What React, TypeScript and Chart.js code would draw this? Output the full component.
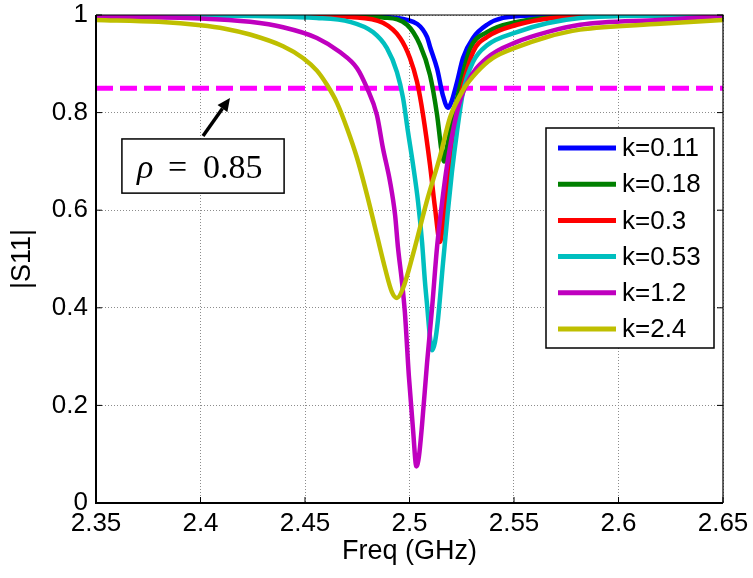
import React, { useEffect, useRef } from "react";
import { Chart, registerables } from "chart.js";

Chart.register(...registerables);

// ---- axis ticks ----
const xTicks = [2.35, 2.4, 2.45, 2.5, 2.55, 2.6, 2.65];
const yTicks = [0, 0.2, 0.4, 0.6, 0.8, 1];

// ---- series meta ----
const seriesLabels = ["k=0.11", "k=0.18", "k=0.3", "k=0.53", "k=1.2", "k=2.4"];
const seriesColors = ["#0000ff", "#008000", "#ff0000", "#00bfbf", "#bf00bf", "#bfbf00"];

// ---- series data (Freq GHz, |S11|) ----
const freqK011 = [2.35, 2.45, 2.48, 2.4988, 2.5084, 2.5098, 2.5132, 2.516, 2.5184, 2.5199, 2.5227, 2.5256, 2.5304, 2.5371, 2.5447, 2.56, 2.65];
const s11K011 = [1.0, 1.0, 0.997, 0.99, 0.955, 0.935, 0.89, 0.835, 0.81, 0.82, 0.862, 0.912, 0.953, 0.98, 0.994, 0.999, 1.0];

const freqK018 = [2.35, 2.46, 2.4873, 2.4988, 2.505, 2.5098, 2.5132, 2.5156, 2.5165, 2.5175, 2.5208, 2.5242, 2.5289, 2.5371, 2.5514, 2.58, 2.65];
const s11K018 = [1.0, 1.0, 0.995, 0.98, 0.939, 0.877, 0.795, 0.713, 0.7, 0.72, 0.79, 0.855, 0.93, 0.965, 0.986, 0.997, 1.0];

const freqK03 = [2.35, 2.44, 2.4715, 2.4873, 2.4955, 2.5002, 2.5036, 2.5065, 2.5098, 2.5122, 2.5146, 2.516, 2.5184, 2.5208, 2.5242, 2.5304, 2.5371, 2.5514, 2.5687, 2.6, 2.65];
const s11K03 = [1.0, 1.0, 0.996, 0.984, 0.953, 0.912, 0.863, 0.795, 0.693, 0.605, 0.535, 0.57, 0.66, 0.75, 0.83, 0.924, 0.955, 0.98, 0.994, 0.999, 1.0];

const freqK053 = [2.35, 2.4, 2.4557, 2.4715, 2.4825, 2.4892, 2.494, 2.4969, 2.4993, 2.5017, 2.5041, 2.506, 2.5074, 2.5084, 2.5098, 2.5108, 2.5122, 2.5136, 2.516, 2.5184, 2.5203, 2.5227, 2.5256, 2.5304, 2.5371, 2.5514, 2.5658, 2.5816, 2.62, 2.65];
const s11K053 = [1.0, 0.999, 0.994, 0.986, 0.965, 0.932, 0.883, 0.83, 0.76, 0.693, 0.617, 0.535, 0.453, 0.406, 0.34, 0.313, 0.33, 0.375, 0.49, 0.6, 0.678, 0.76, 0.842, 0.904, 0.938, 0.965, 0.983, 0.994, 0.999, 1.0];

const freqK12 = [2.35, 2.4, 2.4237, 2.4395, 2.4557, 2.4667, 2.4749, 2.4797, 2.4844, 2.4873, 2.4907, 2.4931, 2.4945, 2.4964, 2.4978, 2.4997, 2.5017, 2.5033, 2.5045, 2.506, 2.5084, 2.5108, 2.5132, 2.516, 2.5179, 2.5227, 2.5275, 2.5371, 2.5514, 2.5658, 2.5816, 2.62, 2.65];
const s11K12 = [0.997, 0.993, 0.986, 0.975, 0.953, 0.924, 0.891, 0.85, 0.795, 0.727, 0.658, 0.59, 0.523, 0.453, 0.39, 0.26, 0.15, 0.075, 0.095, 0.16, 0.287, 0.4, 0.525, 0.63, 0.69, 0.8, 0.86, 0.912, 0.945, 0.965, 0.98, 0.99, 0.998];

const freqK24 = [2.35, 2.38, 2.4, 2.4117, 2.4237, 2.4395, 2.449, 2.4557, 2.4605, 2.4653, 2.4701, 2.4749, 2.4797, 2.4844, 2.4883, 2.4916, 2.494, 2.4969, 2.5017, 2.5084, 2.5146, 2.5194, 2.5256, 2.5323, 2.54, 2.5514, 2.5658, 2.5816, 2.62, 2.65];
const s11K24 = [0.99, 0.986, 0.979, 0.972, 0.96, 0.936, 0.912, 0.886, 0.857, 0.82, 0.768, 0.707, 0.631, 0.549, 0.481, 0.432, 0.42, 0.44, 0.51, 0.62, 0.71, 0.79, 0.846, 0.883, 0.912, 0.934, 0.955, 0.97, 0.982, 0.99];

const seriesFreqs = [freqK011, freqK018, freqK03, freqK053, freqK12, freqK24];
const seriesValues = [s11K011, s11K018, s11K03, s11K053, s11K12, s11K24];

// threshold line
const rhoValue = 0.85;
const rhoText = "0.85";

const SANS = "'Liberation Sans', Arial, sans-serif";
const SERIF = "'Liberation Serif', 'Times New Roman', serif";

const decorPlugin = {
  id: "decor",
  afterDraw(chart: any) {
    const { ctx, chartArea: a, scales } = chart;
    const xs = scales.x;
    const ys = scales.y;
    ctx.save();
    // axes box
    ctx.strokeStyle = "#000";
    ctx.lineWidth = 1.2;
    ctx.beginPath();
    ctx.moveTo(a.left, a.top);
    ctx.lineTo(a.right, a.top);
    ctx.lineTo(a.right, a.bottom);
    ctx.stroke();
    ctx.lineWidth = 2;
    ctx.beginPath();
    ctx.moveTo(a.left, a.top);
    ctx.lineTo(a.left, a.bottom);
    ctx.lineTo(a.right, a.bottom);
    ctx.stroke();
    // inward ticks
    ctx.lineWidth = 1;
    ctx.beginPath();
    xTicks.forEach((v) => {
      const px = xs.getPixelForValue(v);
      ctx.moveTo(px, a.bottom);
      ctx.lineTo(px, a.bottom - 6);
      ctx.moveTo(px, a.top);
      ctx.lineTo(px, a.top + 6);
    });
    yTicks.forEach((v) => {
      const py = ys.getPixelForValue(v);
      ctx.moveTo(a.left, py);
      ctx.lineTo(a.left + 6, py);
      ctx.moveTo(a.right, py);
      ctx.lineTo(a.right - 6, py);
    });
    ctx.stroke();

    // legend
    const lw = 168;
    const lh = 220;
    const lx = a.right - 9 - lw;
    const ly = a.top + 113;
    ctx.fillStyle = "#fff";
    ctx.fillRect(lx, ly, lw, lh);
    ctx.strokeStyle = "#000";
    ctx.lineWidth = 1.5;
    ctx.strokeRect(lx, ly, lw, lh);
    ctx.font = `26px ${SANS}`;
    ctx.textBaseline = "middle";
    ctx.textAlign = "left";
    seriesLabels.forEach((lab, i) => {
      const cy = ly + 20 + i * 36.2;
      ctx.strokeStyle = seriesColors[i];
      ctx.lineWidth = 5;
      ctx.beginPath();
      ctx.moveTo(lx + 12, cy);
      ctx.lineTo(lx + 70, cy);
      ctx.stroke();
      ctx.fillStyle = "#000";
      ctx.fillText(lab, lx + 76, cy + 1);
    });

    // annotation box
    const bx0 = xs.getPixelForValue(2.3624);
    const bx1 = xs.getPixelForValue(2.44);
    const by0 = ys.getPixelForValue(0.746);
    const by1 = ys.getPixelForValue(0.635);
    ctx.fillStyle = "#fff";
    ctx.fillRect(bx0, by0, bx1 - bx0, by1 - by0);
    ctx.strokeStyle = "#000";
    ctx.lineWidth = 1.5;
    ctx.strokeRect(bx0, by0, bx1 - bx0, by1 - by0);
    ctx.fillStyle = "#000";
    ctx.textBaseline = "alphabetic";
    ctx.font = `italic 34px ${SERIF}`;
    ctx.fillText("\u03C1", bx0 + 15, by0 + 39);
    ctx.font = `34px ${SERIF}`;
    ctx.fillText("=", bx0 + 46, by0 + 39);
    ctx.fillText(rhoText, bx0 + 81, by0 + 39);

    // arrow
    const ax0 = xs.getPixelForValue(2.4012);
    const ay0 = ys.getPixelForValue(0.752);
    const ax1 = xs.getPixelForValue(2.4141);
    const ay1 = ys.getPixelForValue(0.83);
    const ang = Math.atan2(ay1 - ay0, ax1 - ax0);
    const hl = 13;
    const hw = 6;
    const bxh = ax1 - hl * Math.cos(ang);
    const byh = ay1 - hl * Math.sin(ang);
    ctx.strokeStyle = "#000";
    ctx.lineWidth = 3.5;
    ctx.beginPath();
    ctx.moveTo(ax0, ay0);
    ctx.lineTo(bxh, byh);
    ctx.stroke();
    ctx.beginPath();
    ctx.moveTo(ax1, ay1);
    ctx.lineTo(bxh + hw * Math.sin(ang), byh - hw * Math.cos(ang));
    ctx.lineTo(bxh - hw * Math.sin(ang), byh + hw * Math.cos(ang));
    ctx.closePath();
    ctx.fill();
    ctx.restore();
  },
};

export default function App() {
  const ref = useRef<HTMLCanvasElement | null>(null);
  useEffect(() => {
    if (!ref.current) return;
    const datasets: any[] = seriesLabels.map((lab, i) => ({
      label: lab,
      data: seriesFreqs[i].map((f, j) => ({ x: f, y: seriesValues[i][j] })),
      borderColor: seriesColors[i],
      backgroundColor: seriesColors[i],
      borderWidth: 4.5,
      pointRadius: 0,
      cubicInterpolationMode: "monotone",
      fill: false,
      clip: 0,
      order: 6 - i,
    }));
    datasets.push({
      label: "rho",
      data: [
        { x: xTicks[0], y: rhoValue },
        { x: xTicks[xTicks.length - 1], y: rhoValue },
      ],
      borderColor: "#ff00ff",
      borderWidth: 5,
      borderDash: [17, 7],
      pointRadius: 0,
      fill: false,
      clip: 0,
      order: 10,
    });
    const chart = new Chart(ref.current, {
      type: "line",
      data: { datasets },
      options: {
        animation: false,
        responsive: false,
        devicePixelRatio: 1,
        layout: { padding: { left: 0, right: 30, top: 15, bottom: 0 } },
        plugins: { legend: { display: false }, tooltip: { enabled: false } },
        scales: {
          x: {
            type: "linear",
            min: 2.35,
            max: 2.65,
            afterBuildTicks: (s: any) => {
              s.ticks = xTicks.map((v) => ({ value: v }));
            },
            afterFit: (s: any) => {
              s.height = 75;
              s.paddingLeft = 0;
              s.paddingRight = 0;
              s.paddingTop = 0;
              s.paddingBottom = 0;
            },
            ticks: {
              autoSkip: false,
              maxRotation: 0,
              padding: 5,
              color: "#000",
              font: { family: SANS, size: 26 },
              callback: (v: any) => String(Number(Number(v).toFixed(2))),
            },
            grid: { color: "#8c8c8c", lineWidth: 1, drawTicks: false },
            border: { display: false, dash: [1, 2] },
            title: {
              display: true,
              text: "Freq (GHz)",
              color: "#000",
              font: { family: SANS, size: 27 },
              padding: { top: 0, bottom: 10 },
            },
          },
          y: {
            type: "linear",
            min: 0,
            max: 1,
            afterBuildTicks: (s: any) => {
              s.ticks = yTicks.map((v) => ({ value: v }));
            },
            afterFit: (s: any) => {
              s.width = 96;
              s.paddingLeft = 0;
              s.paddingRight = 0;
              s.paddingTop = 0;
              s.paddingBottom = 0;
            },
            ticks: {
              padding: 8,
              color: "#000",
              font: { family: SANS, size: 26 },
              callback: (v: any) => String(Number(Number(v).toFixed(2))),
            },
            grid: { color: "#8c8c8c", lineWidth: 1, drawTicks: false },
            border: { display: false, dash: [1, 2] },
            title: {
              display: true,
              text: "|S11|",
              color: "#000",
              font: { family: SANS, size: 27 },
              padding: { top: 6, bottom: 0 },
            },
          },
        },
      },
      plugins: [decorPlugin],
    });
    return () => chart.destroy();
  }, []);
  return (
    <div style={{ position: "fixed", left: 0, top: 0, width: 753, height: 578, background: "#fff" }}>
      <canvas ref={ref} width={753} height={578} style={{ width: 753, height: 578, display: "block" }} />
    </div>
  );
}
